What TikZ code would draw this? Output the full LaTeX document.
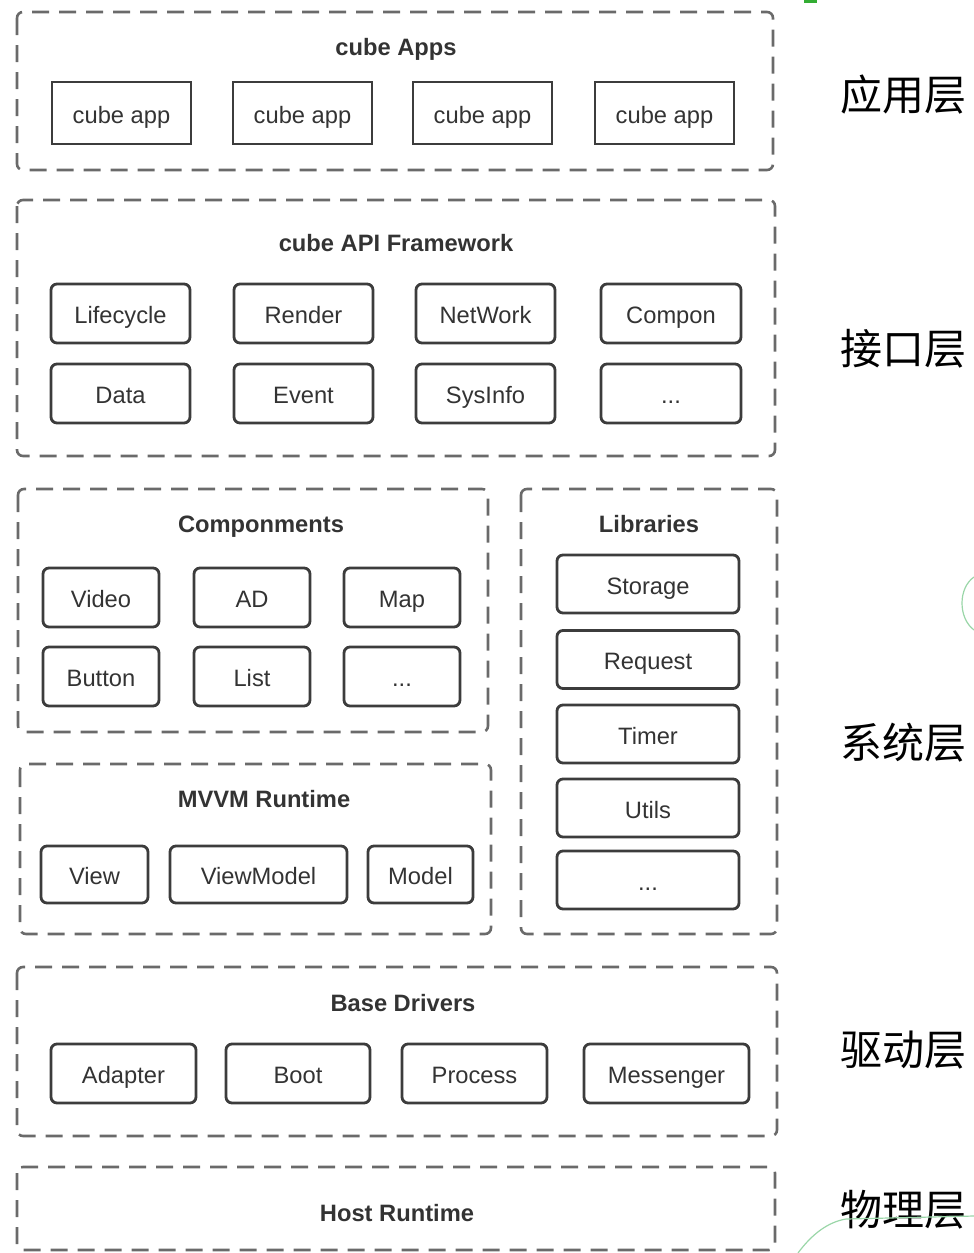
\documentclass[tikz,border=0pt]{standalone}
\usepackage{fontspec}
\setmainfont{Liberation Sans}
\newfontfamily\cjk{Noto Sans CJK SC}
\usepackage{xcolor}
\usepackage{tikz}
\usetikzlibrary{positioning}
\definecolor{laygray}{HTML}{6A6A6A}
\definecolor{boxgray}{HTML}{3C3C3C}
\definecolor{txtgray}{HTML}{333333}
\definecolor{leafgreen}{HTML}{9AD6A8}
\tikzset{
  layer/.style={draw=laygray, line width=2.6pt, dash pattern=on 17pt off 10pt, rounded corners=6pt},
  item/.style={draw=boxgray, line width=2.8pt, rounded corners=6pt, text=txtgray,
    font=\fontsize{23.7}{26}\selectfont, inner sep=0pt, minimum height=59pt,
    text height=20pt, text depth=0pt},
  appitem/.style={item, rounded corners=0pt, minimum height=62pt, minimum width=139pt},
  title/.style={text=txtgray, font=\bfseries\fontsize{23.7}{26}\selectfont,
    inner sep=0pt, text height=17pt, text depth=1pt},
  tier/.style={text=black, font=\cjk\fontsize{42}{46}\selectfont}
}

\begin{document}
\begin{tikzpicture}[x=1pt, y=-1pt]
    \useasboundingbox (0,0) rectangle (974,1253);

    % TOP: cube Apps
    \draw[layer] (17,12) rectangle (773,170);
    \node[title] (apps) at (396,47) {cube Apps};
    \node[appitem] (app1) at (121.5,113) {cube app};
    \node[appitem] (app2) at (302.5,113) {cube app};
    \node[appitem] (app3) at (482.5,113) {cube app};
    \node[appitem] (app4) at (664.5,113) {cube app};

    % API Framework
    \draw[layer] (17,200) rectangle (775,456);
    \node[title] (api) at (396,243) {cube API Framework};
    \node[item, minimum width=139pt] (lifecycle) at (120.5,313.5) {Lifecycle};
    \node[item, minimum width=139pt] (render) at (303.5,313.5) {Render};
    \node[item, minimum width=139pt] (network) at (485.5,313.5) {NetWork};
    \node[item, minimum width=140pt] (compon) at (671,313.5) {Compon};
    \node[item, minimum width=139pt] (data) at (120.5,393.5) {Data};
    \node[item, minimum width=139pt] (event) at (303.5,393.5) {Event};
    \node[item, minimum width=139pt] (sysinfo) at (485.5,393.5) {SysInfo};
    \node[item, minimum width=140pt] (apimore) at (671,393.5) {...};

    % SYSTEM: Componments
    \draw[layer] (18,489) rectangle (488,732);
    \node[title] (comps) at (261,524) {Componments};
    \node[item, minimum width=116pt] (video) at (101,597.5) {Video};
    \node[item, minimum width=116pt] (ad) at (252,597.5) {AD};
    \node[item, minimum width=116pt] (map) at (402,597.5) {Map};
    \node[item, minimum width=116pt] (button) at (101,676.5) {Button};
    \node[item, minimum width=116pt] (list) at (252,676.5) {List};
    \node[item, minimum width=116pt] (compmore) at (402,676.5) {...};

    % SYSTEM: MVVM Runtime
    \draw[layer] (20,764) rectangle (491,934);
    \node[title] (mvvm) at (264,799) {MVVM Runtime};
    \node[item, minimum width=107pt, minimum height=57pt] (view) at (94.5,874.5) {View};
    \node[item, minimum width=177pt, minimum height=57pt] (viewmodel) at (258.5,874.5) {ViewModel};
    \node[item, minimum width=105pt, minimum height=57pt] (model) at (420.5,874.5) {Model};

    % SYSTEM: Libraries
    \draw[layer] (521,489) rectangle (777,934);
    \node[title] (libs) at (649,524) {Libraries};
    \node[item, minimum width=182pt, minimum height=58pt] (storage) at (648,584) {Storage};
    \node[item, minimum width=182pt, minimum height=58pt] (request) at (648,659.5) {Request};
    \node[item, minimum width=182pt, minimum height=58pt] (timer) at (648,734) {Timer};
    \node[item, minimum width=182pt, minimum height=58pt] (utils) at (648,808) {Utils};
    \node[item, minimum width=182pt, minimum height=58pt] (libmore) at (648,880) {...};

    % DRIVERS: Base Drivers
    \draw[layer] (17,967) rectangle (777,1136);
    \node[title] (drivers) at (403,1003) {Base Drivers};
    \node[item, minimum width=145pt] (adapter) at (123.5,1073.5) {Adapter};
    \node[item, minimum width=144pt] (boot) at (298,1073.5) {Boot};
    \node[item, minimum width=145pt] (process) at (474.5,1073.5) {Process};
    \node[item, minimum width=165pt] (messenger) at (666.5,1073.5) {Messenger};

    % BOTTOM: Host Runtime
    \draw[layer] (17,1167) rectangle (775,1250);
    \node[title] (host) at (397,1213) {Host Runtime};

    % RIGHT: tier names
    \node[tier] (tapp) at (903,95) {应用层};
    \node[tier] (tapi) at (903,349) {接口层};
    \node[tier] (tsys) at (903,743) {系统层};
    \node[tier] (tdrv) at (903,1050) {驱动层};
    \node[tier] (tphy) at (903,1210) {物理层};

    % cut-off green marks at the edges
    \fill[green!60!black!80] (804,0) rectangle (817,3);
    \draw[leafgreen, line width=1.2pt] (974,577) .. controls (958,588) and (958,618) .. (974,630);
    \draw[leafgreen, line width=1.2pt] (798,1253) .. controls (812,1234) and (828,1222) .. (846,1219) -- (974,1216);
\end{tikzpicture}
\end{document}
